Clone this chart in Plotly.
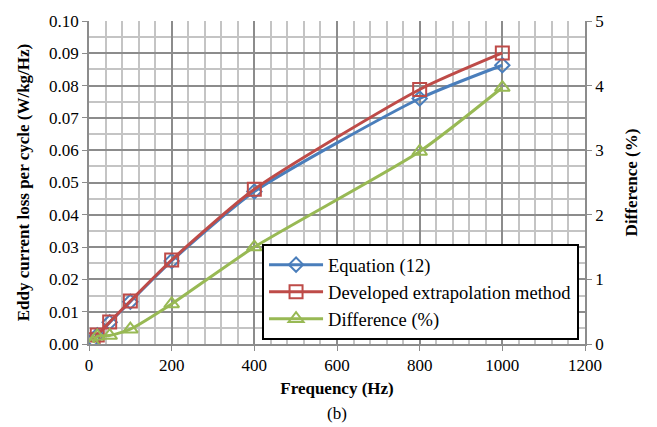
import plotly.graph_objects as go

freq = [10, 20, 50, 100, 200, 400, 800, 1000]
equation12 = [0.0013, 0.0027, 0.0067, 0.0131, 0.0257, 0.0472, 0.0760, 0.0863]
developed = [0.0013, 0.0028, 0.0068, 0.0133, 0.0260, 0.0479, 0.0788, 0.0901]
difference = [0.02, 0.12, 0.13, 0.23, 0.62, 1.50, 2.98, 3.97]

BLUE = "#4A7EBB"
RED = "#BE4B48"
GREEN = "#98B954"
FONT = "Liberation Serif"
TF = dict(family=FONT, size=17, color="black")

fig = go.Figure()
fig.add_trace(go.Scatter(x=freq, y=equation12, name="Equation (12)", mode="lines+markers",
                         line=dict(color=BLUE, width=3, shape="spline", smoothing=0.6),
                         marker=dict(symbol="diamond-open", size=11, color=BLUE, line=dict(width=2))))
fig.add_trace(go.Scatter(x=freq, y=developed, name="Developed extrapolation method", mode="lines+markers",
                         line=dict(color=RED, width=3, shape="spline", smoothing=0.6),
                         marker=dict(symbol="square-open", size=13, color=RED, line=dict(width=2))))
fig.add_trace(go.Scatter(x=freq, y=difference, name="Difference (%)", mode="lines+markers", yaxis="y2",
                         line=dict(color=GREEN, width=3, shape="spline", smoothing=0.6),
                         marker=dict(symbol="triangle-up-open", size=13, color=GREEN, line=dict(width=2))))

fig.update_layout(
    width=657, height=427,
    margin=dict(l=89, r=72, t=14, b=83),
    paper_bgcolor="white", plot_bgcolor="white",
    font=dict(family=FONT, size=17, color="black"),
    showlegend=True,
    legend=dict(x=0.988, y=0.012, xanchor="right", yanchor="bottom",
                bordercolor="black", borderwidth=2, bgcolor="white",
                font=dict(family=FONT, size=18.5, color="black"), tracegroupgap=0, itemwidth=54),
    xaxis=dict(range=[0, 1200], dtick=200, tick0=0, showgrid=True, gridcolor="#8C8C8C", gridwidth=1.5,
               minor=dict(dtick=40, showgrid=True, gridcolor="#C4C4C4", gridwidth=1.5),
               showline=True, linecolor="#8C8C8C", linewidth=1.5, tickfont=TF,
               ticks="outside", ticklen=5, tickcolor="#8C8C8C", zeroline=False,
               title=dict(text="<b>Frequency (Hz)</b>", standoff=8, font=dict(family=FONT, size=17))),
    yaxis=dict(range=[0, 0.10], dtick=0.01, tickformat=".2f", showgrid=True, gridcolor="#8C8C8C", gridwidth=1.5,
               minor=dict(dtick=0.005, showgrid=True, gridcolor="#C4C4C4", gridwidth=1.5),
               showline=True, linecolor="#8C8C8C", linewidth=1.5, tickfont=TF,
               ticks="outside", ticklen=5, tickcolor="#8C8C8C", zeroline=False,
               title=dict(text="<b>Eddy current loss per cycle (W/kg/Hz)</b>", standoff=15, font=dict(family=FONT, size=17))),
    yaxis2=dict(range=[0, 5], dtick=1, overlaying="y", side="right", showgrid=False,
                showline=True, linecolor="#8C8C8C", linewidth=1.5, tickfont=TF,
                ticks="outside", ticklen=5, tickcolor="#8C8C8C", zeroline=False,
                title=dict(text="<b>Difference (%)</b>", standoff=22, font=dict(family=FONT, size=17))),
)
fig.add_annotation(text="(b)", x=0.5, y=-0.215, xref="paper", yref="paper", showarrow=False,
                   xanchor="center", yanchor="middle", font=dict(family=FONT, size=17))

fig.write_html("out.html")
